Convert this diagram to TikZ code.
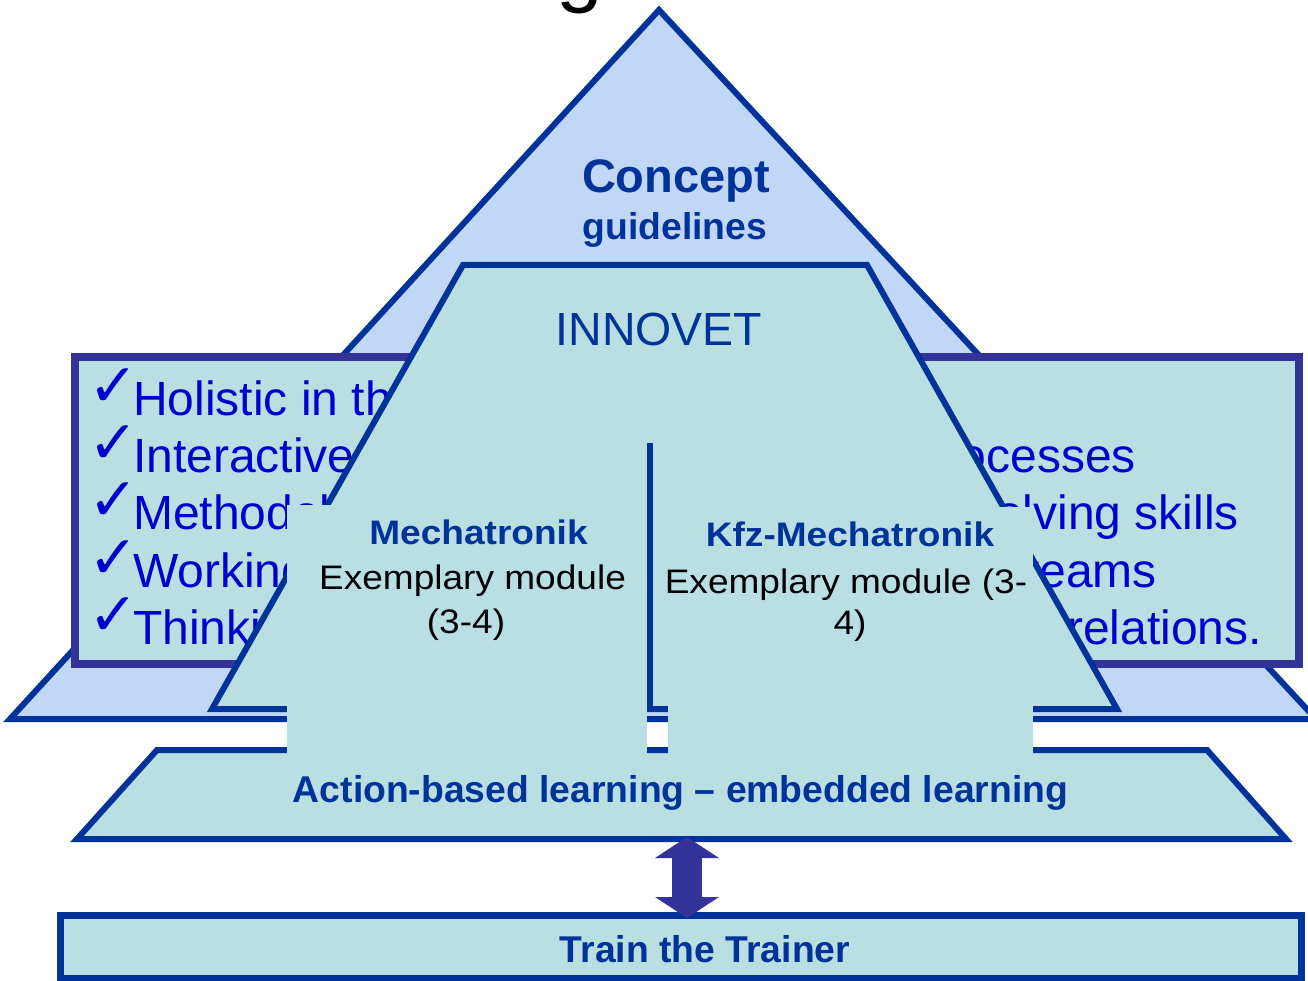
\documentclass[tikz,border=0pt]{standalone}
\usepackage{fontspec}
\setmainfont{Liberation Sans}
\newfontfamily\checkfont{DejaVu Sans}
\newfontfamily\modfont{Liberation Sans}[FakeStretch=1.09]
\usetikzlibrary{arrows.meta}

\definecolor{edgeblue}{HTML}{003399}
\definecolor{boxpurple}{HTML}{333399}
\definecolor{pyrfill}{HTML}{C1D7F6}
\definecolor{tealfill}{HTML}{B9DFE3}
\definecolor{listblue}{HTML}{0000CC}

\newcommand{\tick}{\makebox[0pt][r]{\raisebox{9pt}{\checkfont\fontsize{60}{62}\selectfont ✓}\hspace{-6pt}}}

\tikzset{
  layer/.style={draw=edgeblue, line width=6pt, line join=miter},
  listline/.style={anchor=base west, inner sep=0pt, text=listblue,
    font=\fontsize{48}{58}\selectfont},
  listend/.style={anchor=base east, inner sep=0pt, text=listblue,
    font=\fontsize{48}{58}\selectfont},
  modtitle/.style={anchor=base, inner sep=0pt, text=edgeblue,
    font=\modfont\bfseries\fontsize{34}{40}\selectfont},
  modline/.style={anchor=base, inner sep=0pt, text=black,
    font=\modfont\fontsize{34}{40}\selectfont},
  boldlabel/.style={anchor=base, inner sep=0pt, text=edgeblue,
    font=\bfseries\fontsize{37.3}{45}\selectfont},
  blockarrow/.style={boxpurple, line width=30pt,
    {Triangle[length=21pt,width=63pt]}-{Triangle[length=21pt,width=63pt]}}
}

\begin{document}
\begin{tikzpicture}[x=1pt,y=-1pt]
\useasboundingbox (0,0) rectangle (1308,981);
\fill[white] (0,0) rectangle (1308,981);

% tail of the large title above the pyramid
\node[anchor=base west, inner sep=0pt, font=\fontsize{84}{90}\selectfont] (title) at (556,-3) {g};

% outer pyramid: concept guidelines
\draw[layer, fill=pyrfill] (659,10) -- (1316,719) -- (10,719) -- cycle;
\node[anchor=base, inner sep=0pt, text=edgeblue, font=\bfseries\fontsize{47}{56}\selectfont] (concept) at (676,193) {Concept};
\node[boldlabel] (guide) at (675,240) {guidelines};

% wide box with the guideline list
\draw[boxpurple, fill=tealfill, line width=8pt] (75,357) rectangle (1299,664);
\node[listline] (l1) at (133,415) {\tick Holistic in thinking};
\node[listline] (l2) at (133,472) {\tick Interactive learning};
\node[listline] (l3) at (133,529) {\tick Methodological};
\node[listline] (l4) at (133,587) {\tick Working in};
\node[listline] (l5) at (133,644) {\tick Thinking in};
\node[listend] (r2) at (1136,472) {processes};
\node[listend] (r3) at (1239,529) {solving skills};
\node[listend] (r4) at (1157,587) {in teams};
\node[listend] (r5) at (1262,644) {relations.};

% INNOVET trapezoid
\draw[layer, fill=tealfill] (463,265) -- (867,265) -- (1117,709) -- (212,709) -- cycle;
\node[anchor=base, inner sep=0pt, text=edgeblue, font=\fontsize{46.5}{56}\selectfont] (innovet) at (659,345) {INNOVET};
\draw[edgeblue, line width=6pt] (650,443) -- (650,709);

% base layer: action-based learning
\draw[layer, fill=tealfill] (157,750) -- (1207,750) -- (1286,839) -- (77,839) -- cycle;

% module panels
\fill[tealfill] (287,505) rectangle (647,760);
\fill[tealfill] (668,507) rectangle (1033,760);
\node[modtitle] (mechT) at (478.5,544) {Mechatronik};
\node[modline] (mechA) at (472.5,589) {Exemplary module};
\node[modline] (mechB) at (466,633) {(3-4)};
\node[modtitle] (kfzT) at (850,546) {Kfz-Mechatronik};
\node[modline] (kfzA) at (846,593) {Exemplary module (3-};
\node[modline] (kfzB) at (850,634) {4)};

\node[boldlabel] (action) at (680.5,802) {Action-based learning – embedded learning};

% trainer bar and link
\node[draw=edgeblue, fill=tealfill, line width=7pt, inner sep=0pt,
      minimum width=1241pt, minimum height=63pt] (trainer) at (680.5,947) {};
\node[boldlabel] (trainerlabel) at (705,962) {Train the Trainer};
\coordinate (arrowtop) at (687,837);
\draw[blockarrow] (arrowtop) -- ([yshift=-6pt]arrowtop |- trainer.north);
\end{tikzpicture}
\end{document}
